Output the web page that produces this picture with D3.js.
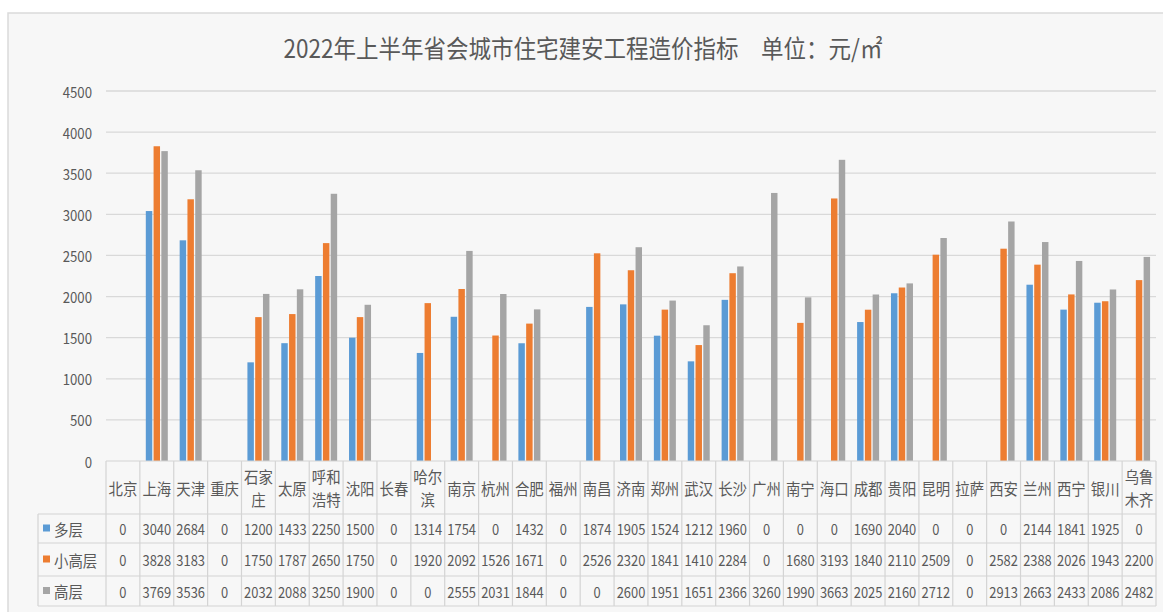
<!DOCTYPE html>
<html>
<head>
<meta charset="utf-8">
<script src="https://cdn.jsdelivr.net/npm/d3@7"></script>
<style>
  body { margin: 0; background: #fff; }
  svg { display: block; }
  text { font-family: "Noto Sans CJK SC", "Noto Sans", sans-serif; fill: #595959; }
</style>
</head>
<body>
<script>
const cities = ["北京", "上海", "天津", "重庆", "石家庄", "太原", "呼和浩特", "沈阳", "长春", "哈尔滨",
  "南京", "杭州", "合肥", "福州", "南昌", "济南", "郑州", "武汉", "长沙", "广州",
  "南宁", "海口", "成都", "贵阳", "昆明", "拉萨", "西安", "兰州", "西宁", "银川", "乌鲁木齐"];
const seriesNames = ["多层", "小高层", "高层"];
const multiStorey = [0, 3040, 2684, 0, 1200, 1433, 2250, 1500, 0, 1314,
  1754, 0, 1432, 0, 1874, 1905, 1524, 1212, 1960, 0,
  0, 0, 1690, 2040, 0, 0, 0, 2144, 1841, 1925, 0];
const midRise = [0, 3828, 3183, 0, 1750, 1787, 2650, 1750, 0, 1920,
  2092, 1526, 1671, 0, 2526, 2320, 1841, 1410, 2284, 0,
  1680, 3193, 1840, 2110, 2509, 0, 2582, 2388, 2026, 1943, 2200];
const highRise = [0, 3769, 3536, 0, 2032, 2088, 3250, 1900, 0, 0,
  2555, 2031, 1844, 0, 0, 2600, 1951, 1651, 2366, 3260,
  1990, 3663, 2025, 2160, 2712, 0, 2913, 2663, 2433, 2086, 2482];
const yTicks = [0, 500, 1000, 1500, 2000, 2500, 3000, 3500, 4000, 4500];
const titleText = "2022年上半年省会城市住宅建安工程造价指标\u3000单位：元/㎡";

const colors = ["#5b9bd5", "#ed7d31", "#a5a5a5"];
const values = [multiStorey, midRise, highRise];

const W = 1163, H = 612;
const plot = { left: 106, right: 1156, top: 91, bottom: 461 };
const table = { left: 38, rows: [461, 514, 543, 576, 606] };

const svg = d3.select("body").append("svg").attr("width", W).attr("height", H);

// condense text horizontally, like the squeezed source image
function squeeze(sel, k) {
  sel.each(function () {
    const len = this.getComputedTextLength();
    if (len > 0) d3.select(this).attr("textLength", len * k).attr("lengthAdjust", "spacingAndGlyphs");
  });
}

svg.append("rect")
  .attr("x", 8).attr("y", 13).attr("width", W).attr("height", H)
  .attr("fill", "#f7f7f7").attr("stroke", "#dadada").attr("stroke-width", 1.5);

svg.append("text")
  .attr("x", 583).attr("y", 47)
  .attr("text-anchor", "middle").attr("dominant-baseline", "central")
  .attr("font-size", 25)
  .text(titleText)
  .call(squeeze, 0.9);

const x0 = d3.scaleBand().domain(cities).range([plot.left, plot.right]);
const groupW = 22;
const x1 = d3.scaleBand().domain(seriesNames).range([0, groupW]).paddingInner(0.17);
const y = d3.scaleLinear().domain([0, 4500]).range([plot.bottom, plot.top]);

// gridlines + y labels
svg.append("g").selectAll("line").data(yTicks.filter(d => d > 0)).join("line")
  .attr("x1", plot.left).attr("x2", plot.right)
  .attr("y1", d => y(d)).attr("y2", d => y(d))
  .attr("stroke", "#d9d9d9").attr("stroke-width", 1.3);

svg.append("g").selectAll("text").data(yTicks).join("text")
  .attr("x", 92).attr("y", d => y(d))
  .attr("text-anchor", "end").attr("dominant-baseline", "central")
  .attr("font-size", 15)
  .text(d => d)
  .call(squeeze, 0.88);

// bars
const bars = svg.append("g");
seriesNames.forEach((s, si) => {
  bars.append("g").attr("fill", colors[si])
    .selectAll("rect").data(cities).join("rect")
    .attr("x", c => x0(c) + (x0.bandwidth() - groupW) / 2 + x1(s))
    .attr("width", x1.bandwidth())
    .attr("y", (c, i) => y(values[si][i]))
    .attr("height", (c, i) => y(0) - y(values[si][i]));
});

// data table
const grid = svg.append("g").attr("stroke", "#d4d4d4").attr("stroke-width", 1.2);
grid.append("line")
  .attr("x1", plot.left).attr("x2", plot.right)
  .attr("y1", table.rows[0]).attr("y2", table.rows[0]);
table.rows.slice(1).forEach(r => {
  grid.append("line").attr("x1", table.left).attr("x2", plot.right).attr("y1", r).attr("y2", r);
});
grid.append("line").attr("x1", table.left).attr("x2", table.left)
  .attr("y1", table.rows[1]).attr("y2", table.rows[4]);
grid.selectAll("line.v").data(cities.concat(["end"])).join("line")
  .attr("class", "v")
  .attr("x1", (c, i) => plot.left + i * x0.bandwidth())
  .attr("x2", (c, i) => plot.left + i * x0.bandwidth())
  .attr("y1", table.rows[0]).attr("y2", table.rows[4]);

// header: city names, long ones on two lines
const headMid = (table.rows[0] + table.rows[1]) / 2;
cities.forEach(c => {
  const lines = c.length > 2 ? [c.slice(0, 2), c.slice(2)] : [c];
  const cx = x0(c) + x0.bandwidth() / 2;
  lines.forEach((t, li) => {
    svg.append("text")
      .attr("x", cx)
      .attr("y", headMid + (li - (lines.length - 1) / 2) * 23)
      .attr("text-anchor", "middle").attr("dominant-baseline", "central")
      .attr("font-size", 16)
      .text(t)
      .call(squeeze, 0.9);
  });
});

// rows: legend key + values
seriesNames.forEach((s, si) => {
  const cy = (table.rows[si + 1] + table.rows[si + 2]) / 2;
  svg.append("rect")
    .attr("x", 43).attr("y", cy - 4).attr("width", 7).attr("height", 7)
    .attr("fill", colors[si]);
  svg.append("text")
    .attr("x", 54).attr("y", cy)
    .attr("dominant-baseline", "central")
    .attr("font-size", 16)
    .text(s)
    .call(squeeze, 0.9);
  svg.append("g").selectAll("text").data(values[si]).join("text")
    .attr("x", (v, i) => x0(cities[i]) + x0.bandwidth() / 2)
    .attr("y", cy)
    .attr("text-anchor", "middle").attr("dominant-baseline", "central")
    .attr("font-size", 15)
    .text(v => v)
    .call(squeeze, 0.86);
});
</script>
</body>
</html>
